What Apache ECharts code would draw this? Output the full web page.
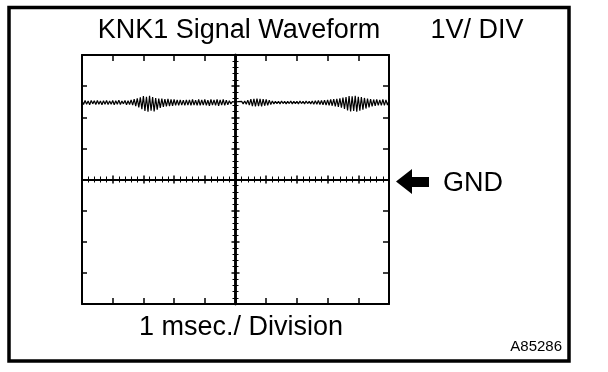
<!DOCTYPE html>
<html>
<head>
<meta charset="utf-8">
<script src="https://cdn.jsdelivr.net/npm/echarts@6/dist/echarts.min.js"></script>
<style>
html,body{margin:0;padding:0;background:#fff;}
#chart{width:608px;height:372px;}
</style>
</head>
<body>
<div id="chart"></div>
<script>
// ---- data ----
const titleText = 'KNK1 Signal Waveform';
const voltScaleText = '1V/ DIV';
const timeScaleText = '1 msec./ Division';
const gndText = 'GND';
const figureId = 'A85286';

// time axis in divisions (1 msec each), centred on 0; voltage axis in V (1 V / div), GND = 0
const timeDivisions = [-5, 5];
const voltDivisions = [-4, 4];
const sampleStart = -5;       // msec (division) of first sample
const sampleStep = 0.05;      // msec between samples

// knock-sensor signal, volts, one value per sample
const signalVolts = [
 2.53,2.41,2.54,2.42,2.52,2.40,2.54,2.43,2.53,2.41,
 2.54,2.42,2.52,2.40,2.53,2.42,2.54,2.41,2.52,2.42,
 2.54,2.40,2.53,2.42,2.55,2.41,2.52,2.43,2.54,2.40,
 2.53,2.41,2.56,2.39,2.58,2.36,2.61,2.32,2.64,2.26,
 2.68,2.20,2.66,2.18,2.69,2.21,2.65,2.19,2.62,2.24,
 2.60,2.30,2.60,2.33,2.58,2.35,2.59,2.36,2.57,2.37,
 2.57,2.38,2.56,2.38,2.56,2.39,2.55,2.38,2.56,2.39,
 2.56,2.38,2.57,2.39,2.55,2.38,2.57,2.38,2.56,2.39,
 2.57,2.38,2.55,2.37,2.57,2.39,2.56,2.38,2.57,2.37,
 2.56,2.39,2.57,2.38,2.55,2.40,2.53,2.43,2.50,2.45,
 2.49,2.45,2.50,2.44,2.51,2.43,2.52,2.42,2.55,2.39,
 2.58,2.36,2.59,2.35,2.60,2.36,2.59,2.35,2.58,2.37,
 2.57,2.38,2.55,2.41,2.52,2.43,2.51,2.44,2.51,2.43,
 2.52,2.44,2.51,2.43,2.51,2.44,2.52,2.43,2.51,2.44,
 2.51,2.43,2.52,2.44,2.51,2.43,2.52,2.44,2.51,2.43,
 2.52,2.42,2.53,2.42,2.54,2.41,2.54,2.40,2.55,2.39,
 2.56,2.38,2.57,2.37,2.58,2.35,2.59,2.33,2.61,2.31,
 2.63,2.27,2.65,2.22,2.68,2.19,2.67,2.20,2.69,2.18,
 2.66,2.21,2.65,2.24,2.62,2.28,2.60,2.32,2.58,2.35,
 2.57,2.37,2.57,2.38,2.56,2.38,2.57,2.38,2.56,2.39,
 2.55
];

// ---- chart ----
const FONT = "'Liberation Sans', Arial, Helvetica, sans-serif";
const seriesData = signalVolts.map((v, i) => [sampleStart + i * sampleStep, v]);

function borderX(pos) {
  return {
    type: 'value', min: timeDivisions[0], max: timeDivisions[1], interval: 1, position: pos,
    axisLine: { show: true, onZero: false, lineStyle: { color: '#000', width: 2 } },
    axisTick: { show: true, inside: true, length: 6, lineStyle: { color: '#000', width: 1.5 } },
    axisLabel: { show: false }, splitLine: { show: false }
  };
}
function centerX(pos) {
  return {
    type: 'value', min: timeDivisions[0], max: timeDivisions[1], interval: 1, position: pos,
    axisLine: { show: true, onZero: true, onZeroAxisIndex: 0, lineStyle: { color: '#000', width: 2 } },
    axisTick: { show: true, inside: false, length: 4, lineStyle: { color: '#000', width: 1.5 } },
    minorTick: { show: true, splitNumber: 5, length: 3, lineStyle: { color: '#000', width: 1 } },
    axisLabel: { show: false }, splitLine: { show: false }, minorSplitLine: { show: false }
  };
}
function borderY(pos, len) {
  return {
    type: 'value', min: voltDivisions[0], max: voltDivisions[1], interval: 1, position: pos,
    axisLine: { show: true, onZero: false, lineStyle: { color: '#000', width: 2 } },
    axisTick: { show: true, inside: true, length: len, lineStyle: { color: '#000', width: 1.5 } },
    axisLabel: { show: false }, splitLine: { show: false }
  };
}
function centerY(pos) {
  return {
    type: 'value', min: voltDivisions[0], max: voltDivisions[1], interval: 1, position: pos,
    axisLine: { show: true, onZero: true, onZeroAxisIndex: 0, lineStyle: { color: '#000', width: 2.5 } },
    axisTick: { show: true, inside: false, length: 4, lineStyle: { color: '#000', width: 1.5 } },
    minorTick: { show: true, splitNumber: 5, length: 3, lineStyle: { color: '#000', width: 1 } },
    axisLabel: { show: false }, splitLine: { show: false }, minorSplitLine: { show: false }
  };
}

const chart = echarts.init(document.getElementById('chart'), null, { renderer: 'canvas', width: 608, height: 372 });
chart.setOption({
  backgroundColor: '#fff',
  animation: false,
  grid: { left: 82, top: 55, width: 307, height: 249, containLabel: false, outerBoundsMode: 'none', show: false },
  xAxis: [borderX('bottom'), borderX('top'), centerX('bottom'), centerX('top')],
  yAxis: [borderY('left', 5), borderY('right', 6), centerY('left'), centerY('right')],
  series: [{
    type: 'line', xAxisIndex: 0, yAxisIndex: 0, data: seriesData,
    showSymbol: false, symbol: 'none', smooth: false,
    lineStyle: { color: '#000', width: 1.2 }, z: 5
  }],
  graphic: [
    { type: 'rect', shape: { x: 9, y: 7.5, width: 560, height: 353.5 }, style: { fill: 'none', stroke: '#000', lineWidth: 3.5 }, z: 10 },
    { type: 'text', x: 239, y: 31, style: { text: titleText, font: '27px ' + FONT, fill: '#000', align: 'center', verticalAlign: 'middle' } },
    { type: 'text', x: 477, y: 31, style: { text: voltScaleText, font: '27px ' + FONT, fill: '#000', align: 'center', verticalAlign: 'middle' } },
    { type: 'text', x: 241, y: 328, style: { text: timeScaleText, font: '27px ' + FONT, fill: '#000', align: 'center', verticalAlign: 'middle' } },
    { type: 'text', x: 443, y: 184, style: { text: gndText, font: '27px ' + FONT, fill: '#000', align: 'left', verticalAlign: 'middle' } },
    { type: 'text', x: 562, y: 347, style: { text: figureId, font: '15px ' + FONT, fill: '#000', align: 'right', verticalAlign: 'middle' } },
    { type: 'polygon', shape: { points: [[396, 181.5], [412, 169], [412, 177], [429, 177], [429, 187], [412, 187], [412, 194]] }, style: { fill: '#000' } }
  ]
});
</script>
</body>
</html>
